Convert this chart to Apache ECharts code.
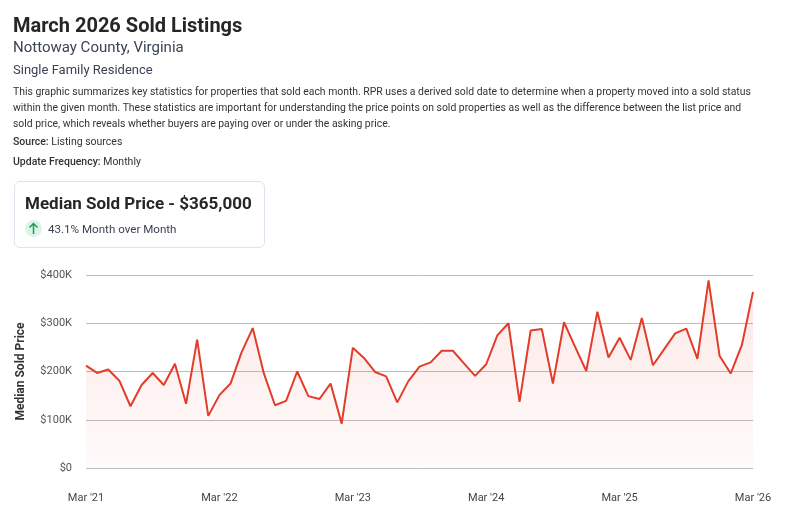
<!DOCTYPE html>
<html>
<head>
<meta charset="utf-8">
<script src="https://cdn.jsdelivr.net/npm/echarts@6/dist/echarts.min.js"></script>
<style>
html,body{margin:0;padding:0;background:#fff;width:787px;height:527px;overflow:hidden;font-family:Roboto,"Noto Sans",sans-serif;}
#chart{position:absolute;left:0;top:0;width:787px;height:527px;}
.t{position:absolute;left:13px;white-space:nowrap;}
#h1{top:13px;font-size:20px;font-weight:700;color:#262626;}
#h2{top:38px;font-size:15px;color:#3a4354;}
#h3{top:62px;font-size:13px;color:#3a4354;}
#body{top:84px;font-size:10.4px;line-height:16px;color:#333;}
#src{top:135px;font-size:10.5px;color:#333;}
#upd{top:155px;font-size:10.5px;color:#333;}
#card{position:absolute;left:14px;top:181px;width:249px;height:65px;border:1.5px solid #dde2ec;border-radius:6px;background:#fff;}
#cardt{position:absolute;left:10px;top:11px;font-size:17px;font-weight:700;color:#262626;white-space:nowrap;}
#circ{position:absolute;left:10px;top:38px;width:17px;height:17px;border-radius:50%;background:#d9f5e6;}
#cards{position:absolute;left:33px;top:40px;font-size:11.6px;color:#3a4354;white-space:nowrap;}
</style>
</head>
<body>
<div id="chart"></div>
<div class="t" id="h1">March 2026 Sold Listings</div>
<div class="t" id="h2">Nottoway County, Virginia</div>
<div class="t" id="h3">Single Family Residence</div>
<div class="t" id="body">This graphic summarizes key statistics for properties that sold each month. RPR uses a derived sold date to determine when a property moved into a sold status<br>within the given month. These statistics are important for understanding the price points on sold properties as well as the difference between the list price and<br>sold price, which reveals whether buyers are paying over or under the asking price.</div>
<div class="t" id="src"><b style="font-weight:500">Source:</b> Listing sources</div>
<div class="t" id="upd"><b style="font-weight:500">Update Frequency:</b> Monthly</div>
<div id="card">
  <div id="cardt">Median Sold Price - $365,000</div>
  <div id="circ"><svg width="17" height="17" viewBox="0 0 17 17"><path d="M8.5 3.5 L8.5 14 M4.5 7.5 L8.5 3.5 L12.5 7.5" stroke="#1f9a5a" stroke-width="1.5" fill="none"/></svg></div>
  <div id="cards">43.1% Month over Month</div>
</div>
<script>
const months = [
 "Mar '21","Apr '21","May '21","Jun '21","Jul '21","Aug '21","Sep '21","Oct '21","Nov '21","Dec '21","Jan '22","Feb '22",
 "Mar '22","Apr '22","May '22","Jun '22","Jul '22","Aug '22","Sep '22","Oct '22","Nov '22","Dec '22","Jan '23","Feb '23",
 "Mar '23","Apr '23","May '23","Jun '23","Jul '23","Aug '23","Sep '23","Oct '23","Nov '23","Dec '23","Jan '24","Feb '24",
 "Mar '24","Apr '24","May '24","Jun '24","Jul '24","Aug '24","Sep '24","Oct '24","Nov '24","Dec '24","Jan '25","Feb '25",
 "Mar '25","Apr '25","May '25","Jun '25","Jul '25","Aug '25","Sep '25","Oct '25","Nov '25","Dec '25","Jan '26","Feb '26",
 "Mar '26"
];
const medianSoldPrice = [
 212000,197000,204000,181000,128000,172000,197000,172000,216000,133000,266000,108000,
 151000,175000,240000,290000,196000,130000,139000,200000,149000,143000,175000,92000,
 249000,228000,199000,190000,136000,180000,210000,219000,243000,243000,217000,191000,
 215000,275000,300000,137000,285000,288000,175000,302000,251000,201000,324000,229000,
 270000,224000,311000,213000,246000,279000,289000,226000,389000,232000,196000,255000,
 365000
];
const yTicks = [0,100000,200000,300000,400000];

const chart = echarts.init(document.getElementById('chart'), null, {renderer:'canvas'});
chart.setOption({
  animation:false,
  grid:{left:86,right:34,top:275,bottom:59,containLabel:false},
  xAxis:{
    type:'category',
    data:months,
    boundaryGap:false,
    axisLine:{show:false},
    axisTick:{show:false},
    axisLabel:{interval:11,color:'#444',fontSize:11,fontFamily:'Roboto',margin:25}
  },
  yAxis:{
    type:'value',
    min:yTicks[0],max:yTicks[yTicks.length-1],interval:100000,
    name:'Median Sold Price',
    nameLocation:'middle',
    nameGap:59,
    nameRotate:90,
    nameTextStyle:{color:'#333',fontSize:12,fontWeight:'bold',fontFamily:'Roboto'},
    axisLine:{show:false},
    axisTick:{show:false},
    axisLabel:{color:'#555',fontSize:11,fontFamily:'Roboto',margin:14,
      formatter:v=>v===0?'$0':'$'+(v/1000)+'K'},
    splitLine:{lineStyle:{color:'#bdbdbd',width:1}}
  },
  series:[{
    type:'line',
    data:medianSoldPrice,
    symbol:'none',
    lineStyle:{color:'#e23d2b',width:2},
    areaStyle:{color:new echarts.graphic.LinearGradient(0,0,0,1,[
      {offset:0,color:'rgba(226,61,43,0.17)'},
      {offset:1,color:'rgba(226,61,43,0.03)'}
    ])}
  }]
});
</script>
</body>
</html>
